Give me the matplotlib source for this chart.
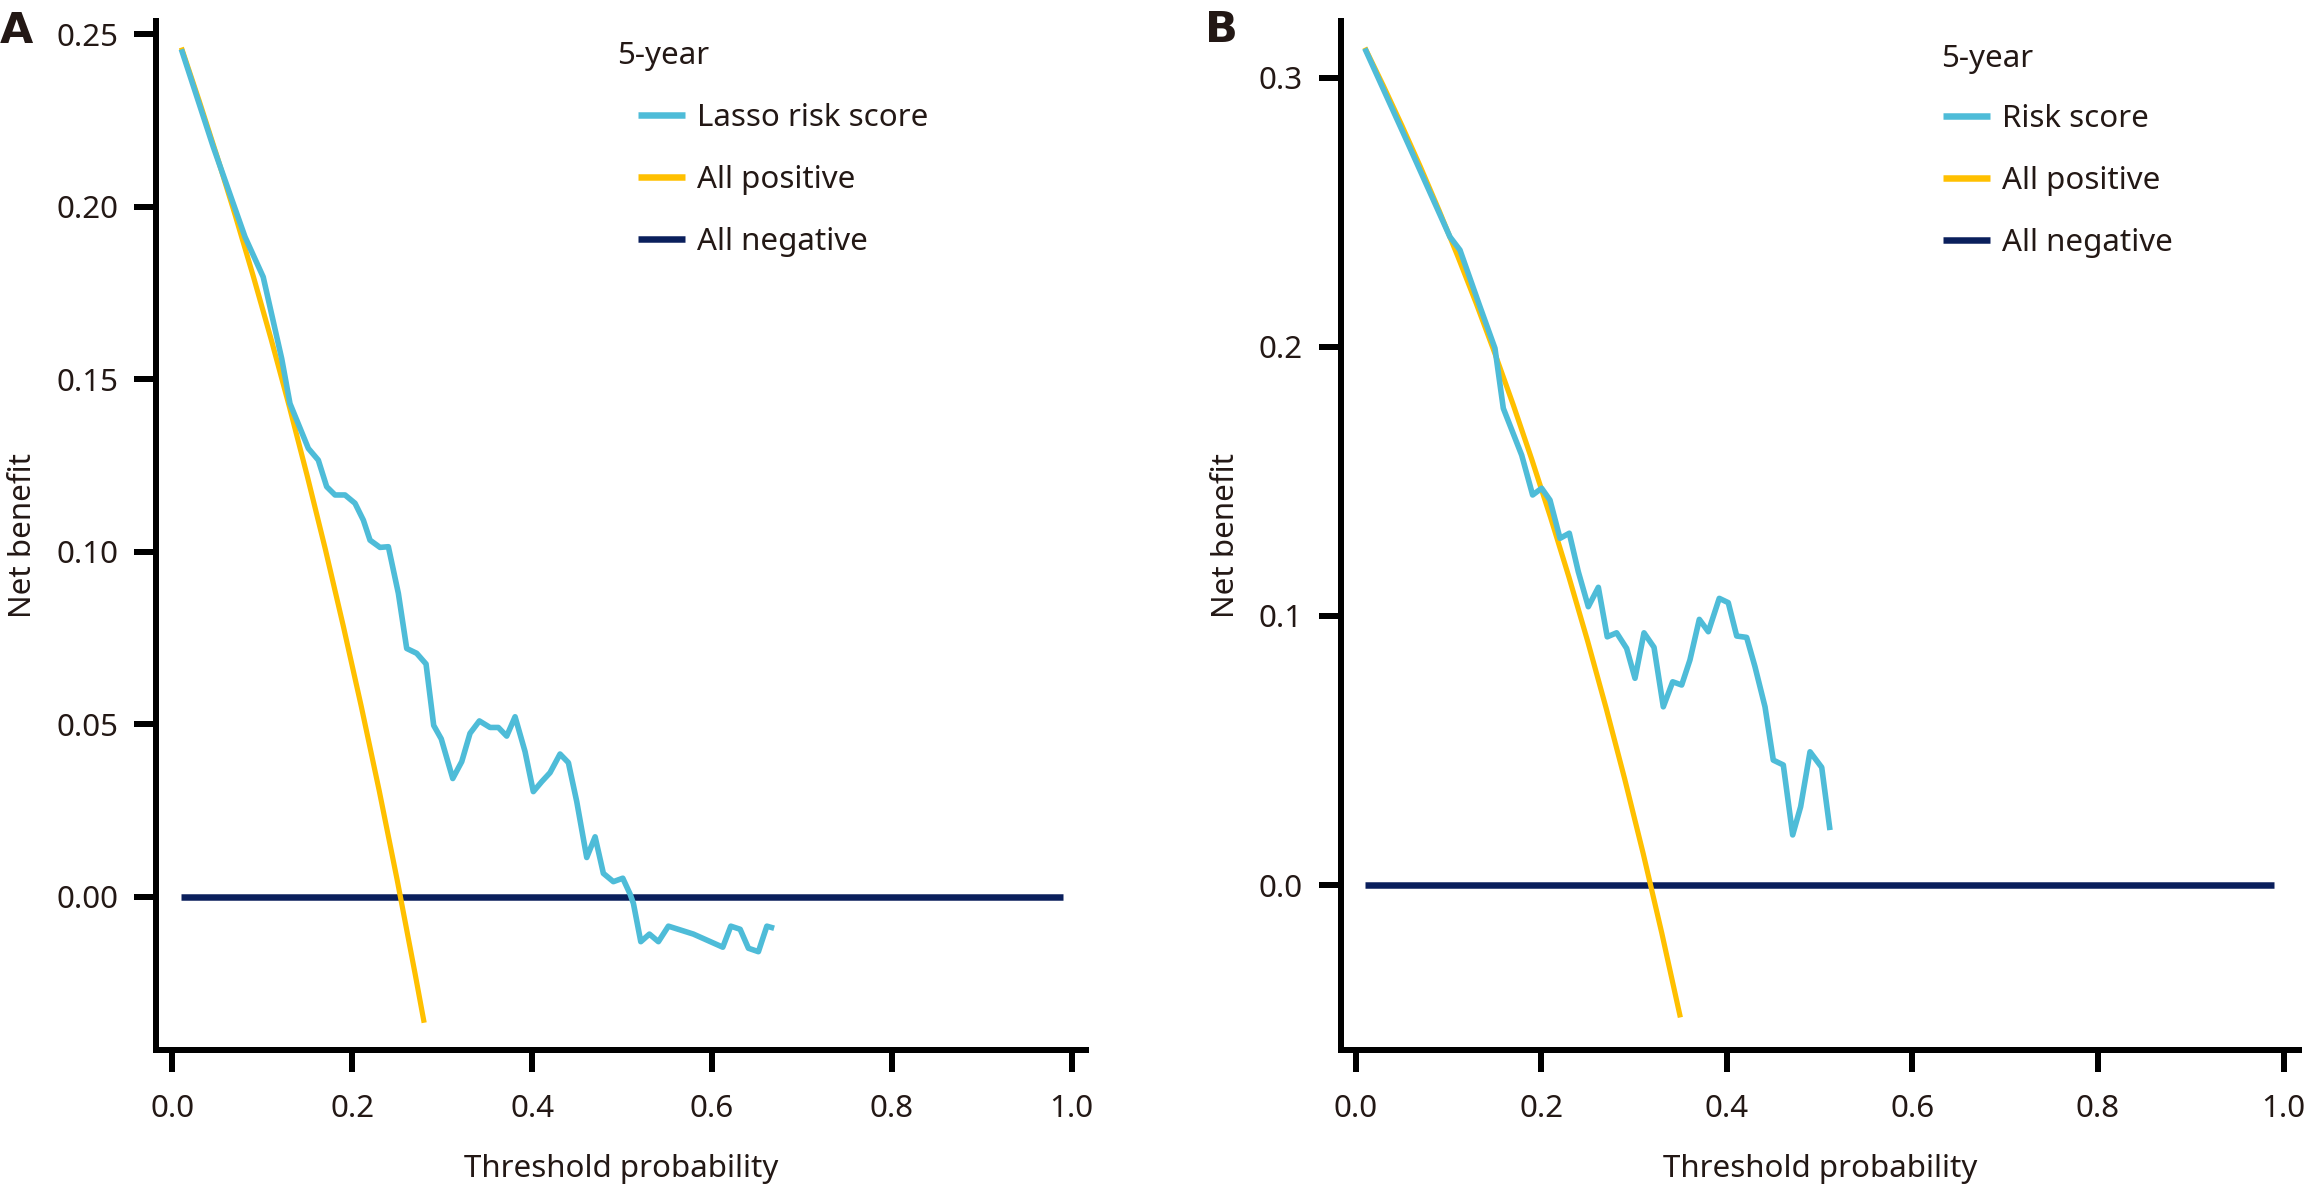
import matplotlib
matplotlib.use("Agg")
import matplotlib.pyplot as plt
from matplotlib.ticker import FixedLocator, FormatStrFormatter

plt.rcParams['font.family'] = ['Noto Sans', 'DejaVu Sans']

# ---------------- data ----------------
# Panel A
a_lasso_x = [0.010, 0.0455, 0.0808, 0.101, 0.1216, 0.1308, 0.1512, 0.1623, 0.1716, 0.1809,
             0.192, 0.2031, 0.2124, 0.2198, 0.2309, 0.2402, 0.2513, 0.2606, 0.2717, 0.2821,
             0.2906, 0.2990, 0.3118, 0.3218, 0.3310, 0.3414, 0.3533, 0.3625, 0.3718, 0.3811,
             0.3922, 0.4014, 0.4108, 0.4200, 0.4311, 0.4404, 0.4497, 0.4608, 0.4701, 0.4793,
             0.4904, 0.5009, 0.5090, 0.5127, 0.5209, 0.5305, 0.5405, 0.5516, 0.5794, 0.6121,
             0.6210, 0.6314, 0.6406, 0.6517, 0.6611, 0.6692]
a_lasso_y = [0.2457, 0.2174, 0.1913, 0.1797, 0.1560, 0.1430, 0.1300, 0.1266, 0.1189, 0.1165,
             0.1165, 0.1141, 0.1092, 0.1034, 0.1013, 0.1015, 0.0880, 0.0720, 0.0706, 0.0675,
             0.0497, 0.0458, 0.0343, 0.0392, 0.0474, 0.0510, 0.0491, 0.0491, 0.0466, 0.0522,
             0.0421, 0.0305, 0.0334, 0.0360, 0.0414, 0.0389, 0.0276, 0.0114, 0.0174, 0.0068,
             0.0044, 0.0054, 0.0008, -0.0019, -0.0130, -0.0108, -0.0130, -0.0085, -0.0108, -0.0146,
             -0.0085, -0.0094, -0.0149, -0.0159, -0.0085, -0.0091]
a_pos_x = [0.01, 0.03, 0.05, 0.07, 0.09, 0.11, 0.13, 0.15, 0.17, 0.19, 0.21, 0.23, 0.25, 0.27, 0.28]
a_pos_y = [0.2462, 0.2306, 0.2144, 0.1975, 0.1799, 0.1615, 0.1422, 0.1220, 0.1009, 0.0786,
           0.0553, 0.0308, 0.0049, -0.0224, -0.0365]
a_neg_x = [0.01, 0.99]
a_neg_y = [0.0, 0.0]
a_yticks = [0.00, 0.05, 0.10, 0.15, 0.20, 0.25]

# Panel B
b_risk_x = [0.010, 0.0532, 0.1017, 0.1125, 0.1341, 0.1502, 0.1592, 0.1790, 0.1908, 0.2005,
            0.2095, 0.2203, 0.2303, 0.2400, 0.2508, 0.2616, 0.2712, 0.2813, 0.2921, 0.3011,
            0.3108, 0.3216, 0.3316, 0.3417, 0.3514, 0.3603, 0.3704, 0.3801, 0.3919, 0.4016,
            0.4107, 0.4214, 0.4304, 0.4412, 0.4501, 0.4609, 0.4710, 0.4796, 0.4897, 0.5023,
            0.5112]
b_risk_y = [0.3108, 0.2780, 0.2408, 0.2359, 0.2148, 0.1994, 0.1771, 0.1597, 0.1449, 0.1474,
            0.1430, 0.1288, 0.1307, 0.1164, 0.1034, 0.1106, 0.0922, 0.0937, 0.0879, 0.0768,
            0.0937, 0.0883, 0.0662, 0.0755, 0.0743, 0.0836, 0.0987, 0.0941, 0.1065, 0.1049,
            0.0925, 0.0920, 0.0811, 0.0662, 0.0464, 0.0446, 0.0186, 0.0291, 0.0495, 0.0437,
            0.0204]
b_pos_x = [0.01, 0.03, 0.05, 0.07, 0.09, 0.11, 0.13, 0.15, 0.17, 0.19, 0.21, 0.23, 0.25, 0.27,
           0.29, 0.31, 0.33, 0.35]
b_pos_y = [0.3111, 0.2969, 0.2821, 0.2667, 0.2506, 0.2337, 0.2161, 0.1976, 0.1783, 0.1580,
           0.1367, 0.1143, 0.0907, 0.0657, 0.0394, 0.0116, -0.0179, -0.0492]
b_neg_x = [0.01, 0.99]
b_neg_y = [0.0, 0.0]
b_yticks = [0.0, 0.1, 0.2, 0.3]

x_ticks = [0.0, 0.2, 0.4, 0.6, 0.8, 1.0]

# ---------------- style ----------------
W, H = 2314, 1186
DPI = 100
C_CYAN = '#4EBCD8'
C_ORANGE = '#FFC000'
C_NAVY = '#0A1F5C'
C_TEXT = '#231815'
FS = 22.5
PX = 72.0 / DPI  # points per pixel

fig = plt.figure(figsize=(W / DPI, H / DPI), dpi=DPI)


def make_axes(left, right, top, bottom):
    return fig.add_axes([left / W, 1 - bottom / H, (right - left) / W, (bottom - top) / H])


def style_axes(ax, yticks, yfmt, xlim, ylim):
    ax.set_xlim(*xlim)
    ax.set_ylim(*ylim)
    for s in ['top', 'right']:
        ax.spines[s].set_visible(False)
    for s in ['left', 'bottom']:
        ax.spines[s].set_linewidth(6 * PX)
        ax.spines[s].set_color('black')
        ax.spines[s].set_capstyle('projecting')
    ax.xaxis.set_major_locator(FixedLocator(x_ticks))
    ax.yaxis.set_major_locator(FixedLocator(yticks))
    ax.xaxis.set_major_formatter(FormatStrFormatter('%.1f'))
    ax.yaxis.set_major_formatter(FormatStrFormatter(yfmt))
    ax.tick_params(axis='both', direction='out', length=22 * PX, width=6 * PX,
                   color='black', labelsize=FS, labelcolor=C_TEXT)
    ax.tick_params(axis='x', pad=22 * PX)
    ax.tick_params(axis='y', pad=16 * PX)
    ax.set_xlabel('Threshold probability', fontsize=FS, color=C_TEXT, labelpad=30 * PX)
    ax.set_ylabel('Net benefit', fontsize=FS, color=C_TEXT, labelpad=18 * PX)


def draw_panel(ax, mx, my, px_, py_, nx, ny):
    l_neg, = ax.plot(nx, ny, color=C_NAVY, lw=6.5 * PX, solid_capstyle='butt', zorder=2)
    l_pos, = ax.plot(px_, py_, color=C_ORANGE, lw=5.2 * PX, solid_capstyle='butt', zorder=3)
    l_m, = ax.plot(mx, my, color=C_CYAN, lw=5.6 * PX, solid_capstyle='butt', zorder=4)
    return l_m, l_pos, l_neg


def add_legend(ax, handles, labels, x, y):
    leg = ax.legend(handles, labels, loc='upper left', bbox_to_anchor=(x / W, 1 - y / H),
                    bbox_transform=fig.transFigure, frameon=False, fontsize=FS,
                    handlelength=1.5, handletextpad=0.38, labelspacing=1.02,
                    borderpad=0, borderaxespad=0, labelcolor=C_TEXT)
    for ln in leg.get_lines():
        ln.set_linewidth(6.5 * PX)
    return leg


# Panel A
axA = make_axes(156, 1086, 21, 1050)
style_axes(axA, a_yticks, '%.2f', (-0.0182, 1.016), (-0.0444, 0.2539))
hA = draw_panel(axA, a_lasso_x, a_lasso_y, a_pos_x, a_pos_y, a_neg_x, a_neg_y)
add_legend(axA, hA, ['Lasso risk score', 'All positive', 'All negative'], 638, 103)
fig.text(617 / W, 1 - 64 / H, '5-year', fontsize=FS, color=C_TEXT, ha='left', va='baseline')

# Panel B
axB = make_axes(1341, 2299, 21, 1050)
style_axes(axB, b_yticks, '%.1f', (-0.0157, 1.0166), (-0.0613, 0.321))
hB = draw_panel(axB, b_risk_x, b_risk_y, b_pos_x, b_pos_y, b_neg_x, b_neg_y)
add_legend(axB, hB, ['Risk score', 'All positive', 'All negative'], 1943, 104)
fig.text(1941 / W, 1 - 67 / H, '5-year', fontsize=FS, color=C_TEXT, ha='left', va='baseline')

# Panel letters
fig.text(0 / W, 1 - 43 / H, 'A', fontsize=31, fontweight='bold', family='DejaVu Sans',
         color=C_TEXT, ha='left', va='baseline')
fig.text(1205 / W, 1 - 42 / H, 'B', fontsize=31, fontweight='bold', family='DejaVu Sans',
         color=C_TEXT, ha='left', va='baseline')

fig.savefig('out.png', dpi=DPI)
